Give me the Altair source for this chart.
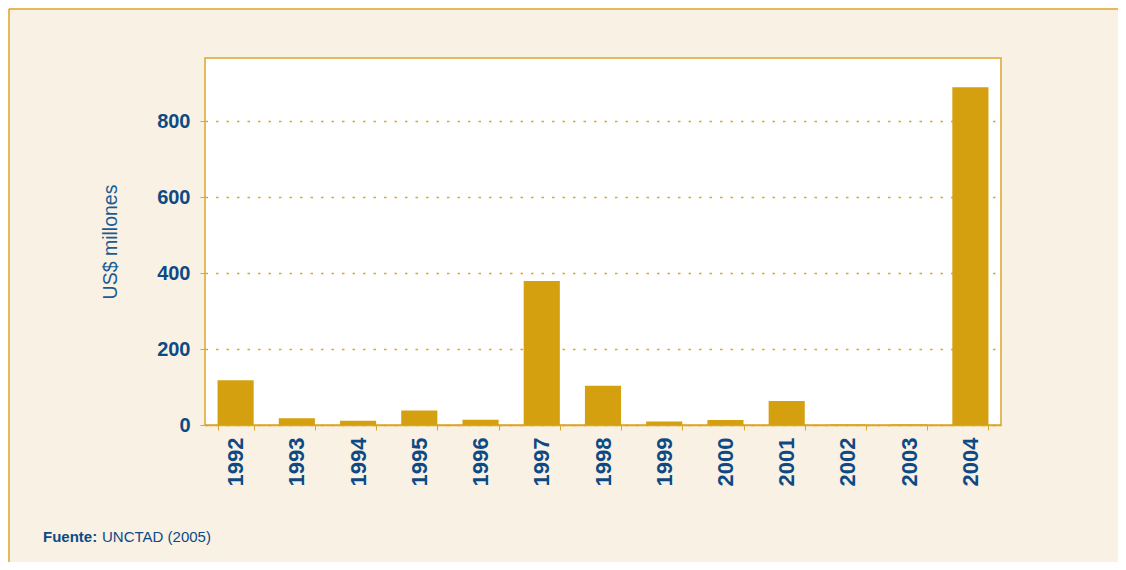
import altair as alt
import pandas as pd

years = ["1992", "1993", "1994", "1995", "1996", "1997", "1998",
         "1999", "2000", "2001", "2002", "2003", "2004"]
values = [118, 18, 11, 38, 14, 379, 103, 9, 13, 63, 1, 1, 889]

df = pd.DataFrame({"year": years, "value": values})

BLUE = "#0d4a85"
GOLD = "#d4a010"
FRAME = "#dba62c"
BG = "#f9f1e3"
FONT = "Liberation Sans"

bars = alt.Chart(df).mark_bar(color=GOLD).encode(
    x=alt.X("year:N", sort=years,
            scale=alt.Scale(paddingInner=0.41, paddingOuter=0.205),
            axis=alt.Axis(title=None, labelAngle=-90, labelAlign="right",
                          labelBaseline="middle", labelFont=FONT,
                          labelFontSize=22, labelFontWeight="bold",
                          labelColor=BLUE, labelPadding=7,
                          tickBand="extent", tickColor=FRAME, tickSize=5,
                          domainColor=FRAME, domainWidth=1.5)),
    y=alt.Y("value:Q", scale=alt.Scale(domain=[0, 966], nice=False),
            axis=alt.Axis(title="US$ millones", values=[0, 200, 400, 600, 800],
                          titleFont=FONT, titleFontSize=19.5,
                          titleFontWeight="normal", titleColor="#1a5b94",
                          titlePadding=36,
                          labelFont=FONT, labelFontSize=20,
                          labelFontWeight="bold", labelColor=BLUE,
                          labelPadding=10, tickColor=FRAME, tickSize=5,
                          domain=False, grid=True, gridColor=FRAME,
                          gridOpacity=1, gridDash=[2.5, 8], gridWidth=1.3))
)

src = pd.DataFrame({"a": ["Fuente:"], "b": ["UNCTAD (2005)"]})
t1 = alt.Chart(src).mark_text(font=FONT, fontSize=15, fontWeight="bold",
                               color=BLUE, align="left", baseline="middle").encode(
    text="a:N", x=alt.value(-162), y=alt.value(479))
t2 = alt.Chart(src).mark_text(font=FONT, fontSize=15, fontWeight="normal",
                               color=BLUE, align="left", baseline="middle").encode(
    text="b:N", x=alt.value(-103), y=alt.value(479))

frame_l = alt.Chart(src).mark_rule(color=FRAME, strokeWidth=1.5).encode(
    x=alt.value(-196), y=alt.value(-49), y2=alt.value(520))
frame_t = alt.Chart(src).mark_rule(color=FRAME, strokeWidth=1.5).encode(
    x=alt.value(-196), x2=alt.value(921), y=alt.value(-49))

chart = alt.layer(bars, t1, t2, frame_l, frame_t).properties(
    width=796, height=367,
    background=BG,
    padding={"left": 197, "top": 50, "right": 117, "bottom": 137},
    autosize=alt.AutoSizeParams(type="none"),
).configure_view(fill="white", stroke=FRAME, strokeWidth=1.5)

chart.save("out.html", embed_options={"renderer": "svg", "actions": False})
